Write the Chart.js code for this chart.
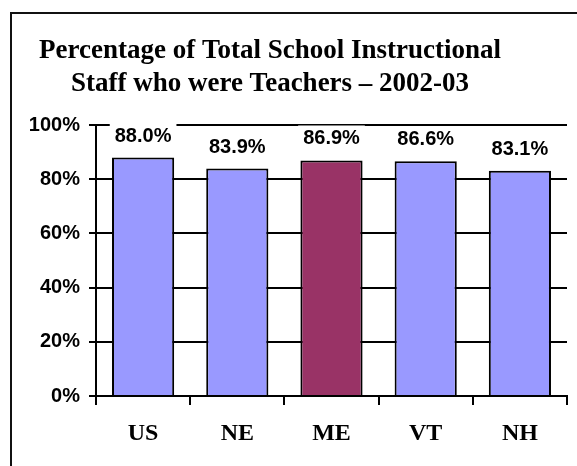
<!DOCTYPE html>
<html>
<head>
<meta charset="utf-8">
<script src="https://cdn.jsdelivr.net/npm/chart.js@4/dist/chart.umd.min.js"></script>
<style>
  html, body { margin: 0; padding: 0; background: #fff; overflow: hidden; }
  #frame { position: absolute; left: 10px; top: 12px; width: 600px; height: 500px; border: 2px solid #111; }
  #wrap { position: absolute; left: -27px; top: 0; width: 604px; height: 466px; }
</style>
</head>
<body>
<div id="frame"></div>
<div id="wrap"><canvas id="chart" width="604" height="466"></canvas></div>
<script>
/* DATA */
const states = ["US", "NE", "ME", "VT", "NH"];
const teacherShare = [88.0, 83.9, 86.9, 86.6, 83.1];
const barColors = ["#9999FF", "#9999FF", "#993366", "#9999FF", "#9999FF"];
const titleLines = ["Percentage of Total School Instructional", "Staff who were Teachers \u2013 2002-03"];

/* value labels with white box behind them */
const valueLabels = {
    id: "valueLabels",
    afterDatasetsDraw(chart) {
        const ctx = chart.ctx;
        const meta = chart.getDatasetMeta(0);
        ctx.save();
        ctx.font = "bold 20px 'Liberation Sans', Arial, sans-serif";
        ctx.textAlign = "center";
        ctx.textBaseline = "alphabetic";
        meta.data.forEach((bar, i) => {
            const txt = teacherShare[i].toFixed(1) + "%";
            const w = ctx.measureText(txt).width;
            const base = bar.y - 16;
            ctx.fillStyle = "#fff";
            ctx.fillRect(bar.x - w / 2 - 5, base - 19, w + 10, 23);
            ctx.fillStyle = "#000";
            ctx.fillText(txt, bar.x, base);
        });
        ctx.restore();
    }
};

new Chart(document.getElementById("chart"), {
    type: "bar",
    data: {
        labels: states,
        datasets: [{
            data: teacherShare,
            backgroundColor: barColors,
            borderColor: "#000",
            borderWidth: 2,
            borderSkipped: "bottom",
            barPercentage: 0.66,
            categoryPercentage: 1
        }]
    },
    options: {
        responsive: false,
        animation: false,
        layout: { padding: { left: 0, right: 10, top: 0, bottom: 0 } },
        plugins: {
            legend: { display: false },
            tooltip: { enabled: false },
            title: {
                display: true,
                text: titleLines,
                color: "#000",
                font: { family: "'Liberation Serif', 'Times New Roman', serif", size: 27, weight: "bold", lineHeight: 1.222 },
                padding: { top: 35, bottom: 24 }
            }
        },
        scales: {
            x: {
                offset: true,
                grid: { offset: true, drawOnChartArea: false, color: "#000", lineWidth: 2, tickLength: 9 },
                border: { color: "#000", width: 2 },
                ticks: {
                    color: "#000",
                    padding: 14,
                    font: { family: "'Liberation Serif', 'Times New Roman', serif", size: 24, weight: "bold" }
                },
                afterFit(scale) { scale.height = 70; }
            },
            y: {
                min: 0,
                max: 100,
                ticks: {
                    stepSize: 20,
                    color: "#000",
                    padding: 9,
                    font: { family: "'Liberation Sans', Arial, sans-serif", size: 20, weight: "bold" },
                    callback: v => v + "%"
                },
                grid: { color: "#000", lineWidth: 2, tickLength: 7 },
                border: { color: "#000", width: 2 },
                afterFit(scale) { scale.width = 123; }
            }
        }
    },
    plugins: [valueLabels]
});
</script>
</body>
</html>
